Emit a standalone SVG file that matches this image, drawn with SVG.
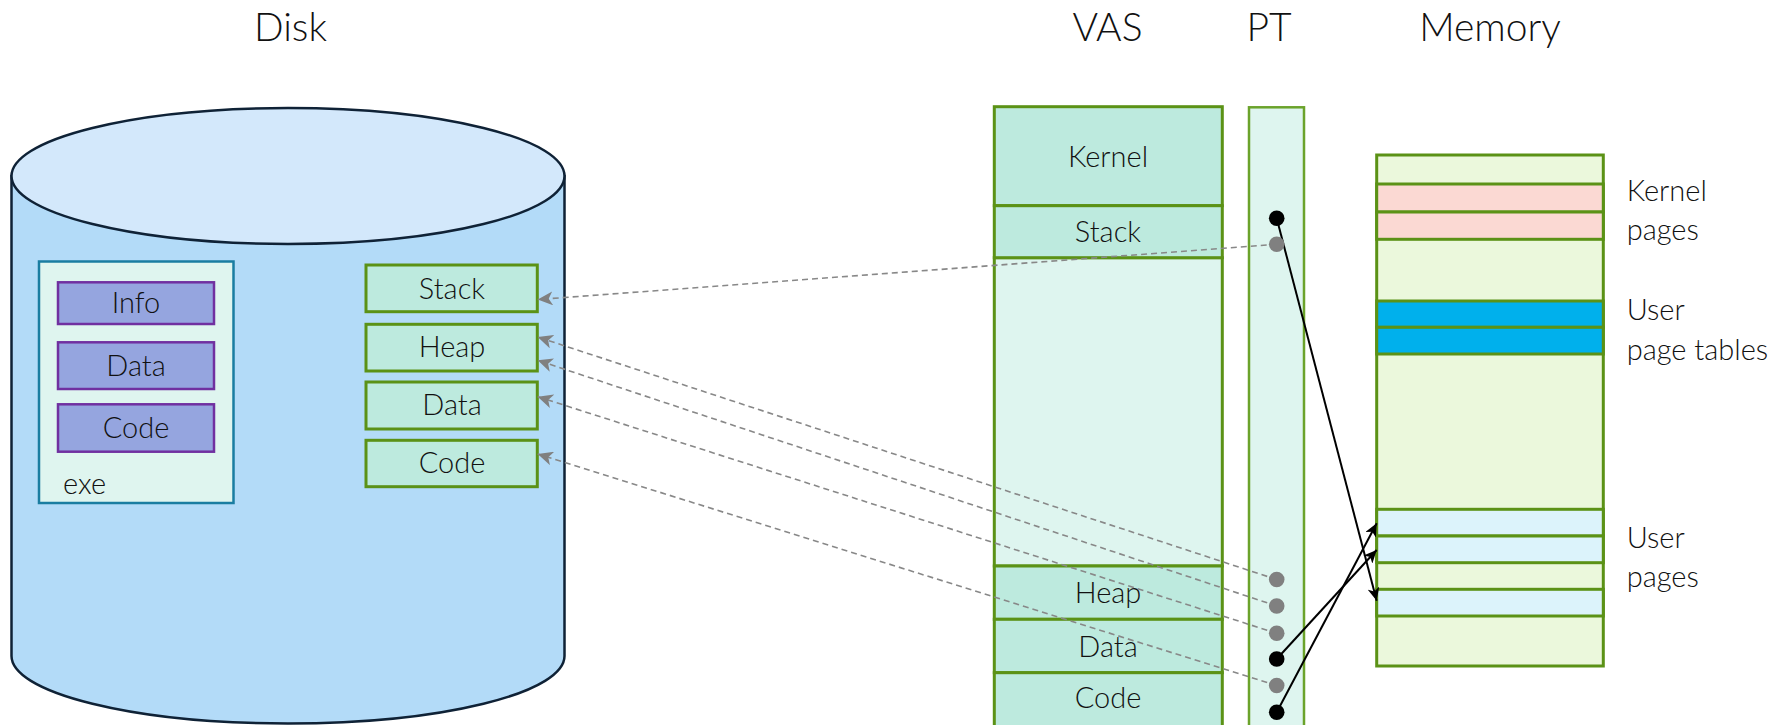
<svg xmlns="http://www.w3.org/2000/svg" width="1781" height="725" viewBox="0 0 1781 725">
<style>
text{font-family:Lato,"Open Sans","Liberation Sans",sans-serif;font-weight:300;fill:#111}
.t{font-size:39px;text-anchor:middle}
.l{font-size:29px;text-anchor:middle}
.s{font-size:29px}
.seg{fill:#bdeade;stroke:#5b9216;stroke-width:3}
.empty{fill:#def5ef;stroke:#5b9216;stroke-width:3}
.pur{fill:#95a5df;stroke:#7030a0;stroke-width:2.5}
.mg{fill:#ebf8dc;stroke:#5b9216;stroke-width:3}
.mp{fill:#fbd9d3;stroke:#5b9216;stroke-width:3}
.mb{fill:#00b0ec;stroke:#5b9216;stroke-width:3}
.ml{fill:#dcf3fb;stroke:#5b9216;stroke-width:3}
.dash{fill:none;stroke:#888;stroke-width:1.6;stroke-dasharray:6 4;marker-end:url(#ga)}
.solid{fill:none;stroke:#000;stroke-width:2;marker-end:url(#ba)}
.gd{fill:#808080}
.bd{fill:#000}
</style>
<defs>
<marker id="ga" markerUnits="userSpaceOnUse" markerWidth="16" markerHeight="14" viewBox="0 0 16 14" refX="15" refY="7" orient="auto">
<path d="M15,7 L0,0 L4,7 L0,14 Z" fill="#808080"/>
</marker>
<marker id="ba" markerUnits="userSpaceOnUse" markerWidth="14" markerHeight="12" viewBox="0 0 14 12" refX="13" refY="6" orient="auto">
<path d="M13,6 L0,0 L3.5,6 L0,12 Z" fill="#000"/>
</marker>
</defs>
<rect width="1781" height="725" fill="#fff"/>

<g id="titles">
<text class="t" x="290.5" y="40.7">Disk</text>
<text class="t" x="1107.5" y="40.7">VAS</text>
<text class="t" x="1269" y="40.7">PT</text>
<text class="t" x="1490" y="40.7">Memory</text>
</g>

<g id="disk">
<path d="M11.5,176 L11.5,656 A276.5,67.5 0 0 0 564.5,656 L564.5,176 Z" fill="#b3dbf8" stroke="#0f2236" stroke-width="2.5"/>
<ellipse cx="288" cy="176" rx="276.5" ry="68" fill="#d3e8fb" stroke="#0f2236" stroke-width="2.5"/>
</g>

<g id="exe">
<rect x="39" y="261.5" width="194.5" height="241.5" fill="#dff5ef" stroke="#1a7da1" stroke-width="2.5"/>
<text class="s" x="63" y="494.3">exe</text>
</g>
<g id="exe-info"><rect class="pur" x="58" y="282.3" width="156" height="41.7"/><text class="l" x="136" y="313.3">Info</text></g>
<g id="exe-data"><rect class="pur" x="58" y="342.3" width="156" height="46.7"/><text class="l" x="136" y="376">Data</text></g>
<g id="exe-code"><rect class="pur" x="58" y="404.3" width="156" height="47.4"/><text class="l" x="136" y="437.7">Code</text></g>

<g id="disk-stack"><rect class="seg" x="366" y="265" width="171.3" height="46.7"/><text class="l" x="452" y="298.7">Stack</text></g>
<g id="disk-heap"><rect class="seg" x="366" y="324.3" width="171.3" height="46.7"/><text class="l" x="452" y="356.7">Heap</text></g>
<g id="disk-data"><rect class="seg" x="366" y="382" width="171.3" height="47"/><text class="l" x="452" y="415">Data</text></g>
<g id="disk-code"><rect class="seg" x="366" y="440.3" width="171.3" height="46.4"/><text class="l" x="452" y="473.3">Code</text></g>

<g id="vas">
<rect class="empty" x="994.3" y="257.7" width="228" height="308.3"/>
<rect class="seg" x="994.3" y="106.7" width="228" height="99"/>
<text class="l" x="1108" y="167.3">Kernel</text>
<rect class="seg" x="994.3" y="205.7" width="228" height="52"/>
<text class="l" x="1108" y="242.3">Stack</text>
<rect class="seg" x="994.3" y="566" width="228" height="53.3"/>
<text class="l" x="1108" y="602.7">Heap</text>
<rect class="seg" x="994.3" y="619.3" width="228" height="53.4"/>
<text class="l" x="1108" y="656.7">Data</text>
<rect class="seg" x="994.3" y="672.7" width="228" height="56"/>
<text class="l" x="1108" y="708.3">Code</text>
</g>

<g id="pt">
<rect x="1249" y="107.3" width="55" height="625" fill="#def5ef" stroke="#6ba32b" stroke-width="2.5"/>
</g>

<g id="memory">
<rect class="mg" x="1376.7" y="155" width="226.6" height="511"/>
<rect class="mp" x="1376.7" y="184" width="226.6" height="28"/>
<rect class="mp" x="1376.7" y="212" width="226.6" height="27.3"/>
<rect class="mb" x="1376.7" y="301" width="226.6" height="26.3"/>
<rect class="mb" x="1376.7" y="327.3" width="226.6" height="26.7"/>
<rect class="ml" x="1376.7" y="509.3" width="226.6" height="26.7"/>
<rect class="ml" x="1376.7" y="536" width="226.6" height="26.7"/>
<rect class="ml" x="1376.7" y="589.3" width="226.6" height="26.7"/>
<text class="s" x="1626.7" y="201">Kernel</text>
<text class="s" x="1626.7" y="239.5">pages</text>
<text class="s" x="1626.7" y="320">User</text>
<text class="s" x="1626.7" y="360">page tables</text>
<text class="s" x="1626.7" y="548.3">User</text>
<text class="s" x="1626.7" y="586.7">pages</text>
</g>

<g id="connectors">
<path class="dash" d="M1276.7,244.3 L537.7,299.5"/>
<path class="dash" d="M1276.7,579.5 L537.7,337"/>
<path class="dash" d="M1276.7,606 L537.7,360.3"/>
<path class="dash" d="M1276.7,633.3 L537.7,396.7"/>
<path class="dash" d="M1276.7,685.5 L537.7,454"/>
<path class="solid" d="M1276.7,218.3 L1376.7,600.7"/>
<path class="solid" d="M1276.7,659 L1376.7,550"/>
<path class="solid" d="M1276.7,712.3 L1376.7,523.3"/>
</g>

<g id="pt-entries">
<circle class="bd" cx="1276.7" cy="218.3" r="7.8"/>
<circle class="gd" cx="1276.7" cy="244.3" r="7.8"/>
<circle class="gd" cx="1276.7" cy="579.5" r="7.8"/>
<circle class="gd" cx="1276.7" cy="606" r="7.8"/>
<circle class="gd" cx="1276.7" cy="633.3" r="7.8"/>
<circle class="bd" cx="1276.7" cy="659" r="7.8"/>
<circle class="gd" cx="1276.7" cy="685.5" r="7.8"/>
<circle class="bd" cx="1276.7" cy="712.3" r="7.8"/>
</g>
</svg>
